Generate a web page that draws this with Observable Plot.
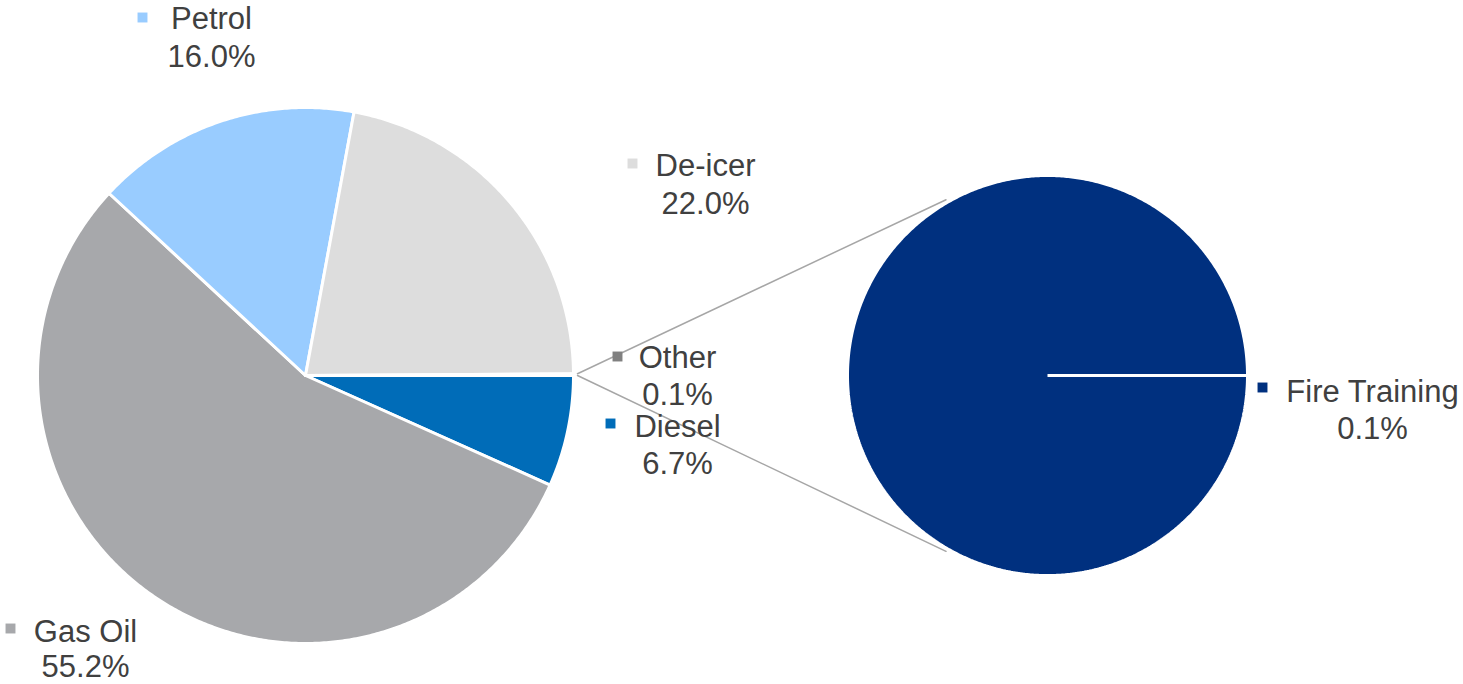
<!DOCTYPE html>
<html><head><meta charset="utf-8">
<script src="https://cdn.jsdelivr.net/npm/d3@7"></script>
<script src="https://cdn.jsdelivr.net/npm/@observablehq/plot@0.6"></script>
<style>html,body{margin:0;padding:0;background:#fff;overflow:hidden}</style>
</head><body><div id="chart"></div>
<script>
// ---- data ----
const mainCategories = ["Diesel", "Gas Oil", "Petrol", "De-icer", "Other"];
const mainValues = [6.7, 55.2, 16.0, 22.0, 0.1];
const subCategories = ["Fire Training"];
const subValues = [0.1];
const palette = ["#006CB8", "#A7A8AB", "#99CCFF", "#DDDDDD", "#808080", "#00307F"];

// ---- layout ----
const W = 1463, H = 684;
const mainPie = {cx: 305, cy: 375, r: 268};
const subPie = {cx: 1047, cy: 375, r: 200};
const labelLayout = {
  "Diesel":        {cx: 677, y: 436, mx: 610, my: 423, gap: 37},
  "Gas Oil":       {cx: 85,  y: 641, mx: 10,  my: 628, gap: 35},
  "Petrol":        {cx: 211, y: 28,  mx: 142, my: 17,  gap: 38},
  "De-icer":       {cx: 705, y: 175, mx: 632, my: 163, gap: 38},
  "Other":         {cx: 677, y: 367, mx: 617, my: 356, gap: 37},
  "Fire Training": {cx: 1372, y: 401, mx: 1262, my: 387, gap: 37}
};

// ---- geometry from data ----
function slices(cats, vals, pie) {
  const arcs = d3.pie().sort(null).startAngle(Math.PI / 2).endAngle(Math.PI / 2 + 2 * Math.PI)(vals);
  const pts = [];
  arcs.forEach((a, i) => {
    const name = cats[i];
    pts.push({name, x: pie.cx, y: pie.cy});
    const n = Math.max(2, Math.ceil((a.endAngle - a.startAngle) / (Math.PI / 360)));
    for (let k = 0; k <= n; k++) {
      const t = a.startAngle + (a.endAngle - a.startAngle) * k / n;
      pts.push({name, x: pie.cx + pie.r * Math.sin(t), y: pie.cy - pie.r * Math.cos(t)});
    }
  });
  return {arcs, pts};
}
const main = slices(mainCategories, mainValues, mainPie);
const sub = slices(subCategories, subValues, subPie);

// connector lines: from the "Other" slice edge to the second pie
const otherArc = main.arcs[mainCategories.indexOf("Other")];
const rr = mainPie.r + 4, sr = subPie.r + 3;
const connectors = [
  {id: "top", x: mainPie.cx + rr * Math.sin(otherArc.startAngle), y: mainPie.cy - rr * Math.cos(otherArc.startAngle)},
  {id: "top", x: subPie.cx + sr * Math.cos(-2 * Math.PI / 3), y: subPie.cy + sr * Math.sin(-2 * Math.PI / 3)},
  {id: "bot", x: mainPie.cx + rr * Math.sin(otherArc.endAngle), y: mainPie.cy - rr * Math.cos(otherArc.endAngle)},
  {id: "bot", x: subPie.cx + sr * Math.cos(2 * Math.PI / 3), y: subPie.cy + sr * Math.sin(2 * Math.PI / 3)}
];

const labels = [...mainCategories.map((c, i) => ({name: c, value: mainValues[i]})),
                ...subCategories.map((c, i) => ({name: c, value: subValues[i]}))]
  .map(d => ({...d, ...labelLayout[d.name]}));

const chart = Plot.plot({
  width: W, height: H, margin: 0,
  x: {domain: [0, W], range: [0, W], axis: null},
  y: {domain: [0, H], range: [0, H], axis: null},
  color: {domain: [...mainCategories, ...subCategories], range: palette},
  style: {fontFamily: "'Liberation Sans', Arial, sans-serif", background: "#fff"},
  marks: [
    Plot.line(connectors, {x: "x", y: "y", z: "id", stroke: "#A6A6A6", strokeWidth: 1.5}),
    Plot.line(main.pts, {x: "x", y: "y", z: "name", fill: "name", stroke: "white", strokeWidth: 3, strokeLinejoin: "round", curve: "linear-closed"}),
    Plot.line(sub.pts, {x: "x", y: "y", z: "name", fill: "name", stroke: "white", strokeWidth: 3, strokeLinejoin: "miter", curve: "linear-closed"}),
    Plot.dot(labels, {x: "mx", y: "my", fill: "name", symbol: "square", r: 5.6, stroke: null}),
    Plot.text(labels, {x: "cx", y: "y", text: "name", fill: "#404040", fontSize: 31, textAnchor: "middle", lineAnchor: "bottom"}),
    Plot.text(labels, {x: "cx", y: d => d.y + d.gap, text: d => d.value.toFixed(1) + "%", fill: "#404040", fontSize: 31, textAnchor: "middle", lineAnchor: "bottom"})
  ]
});
document.getElementById("chart").appendChild(chart);
</script>
</body></html>
